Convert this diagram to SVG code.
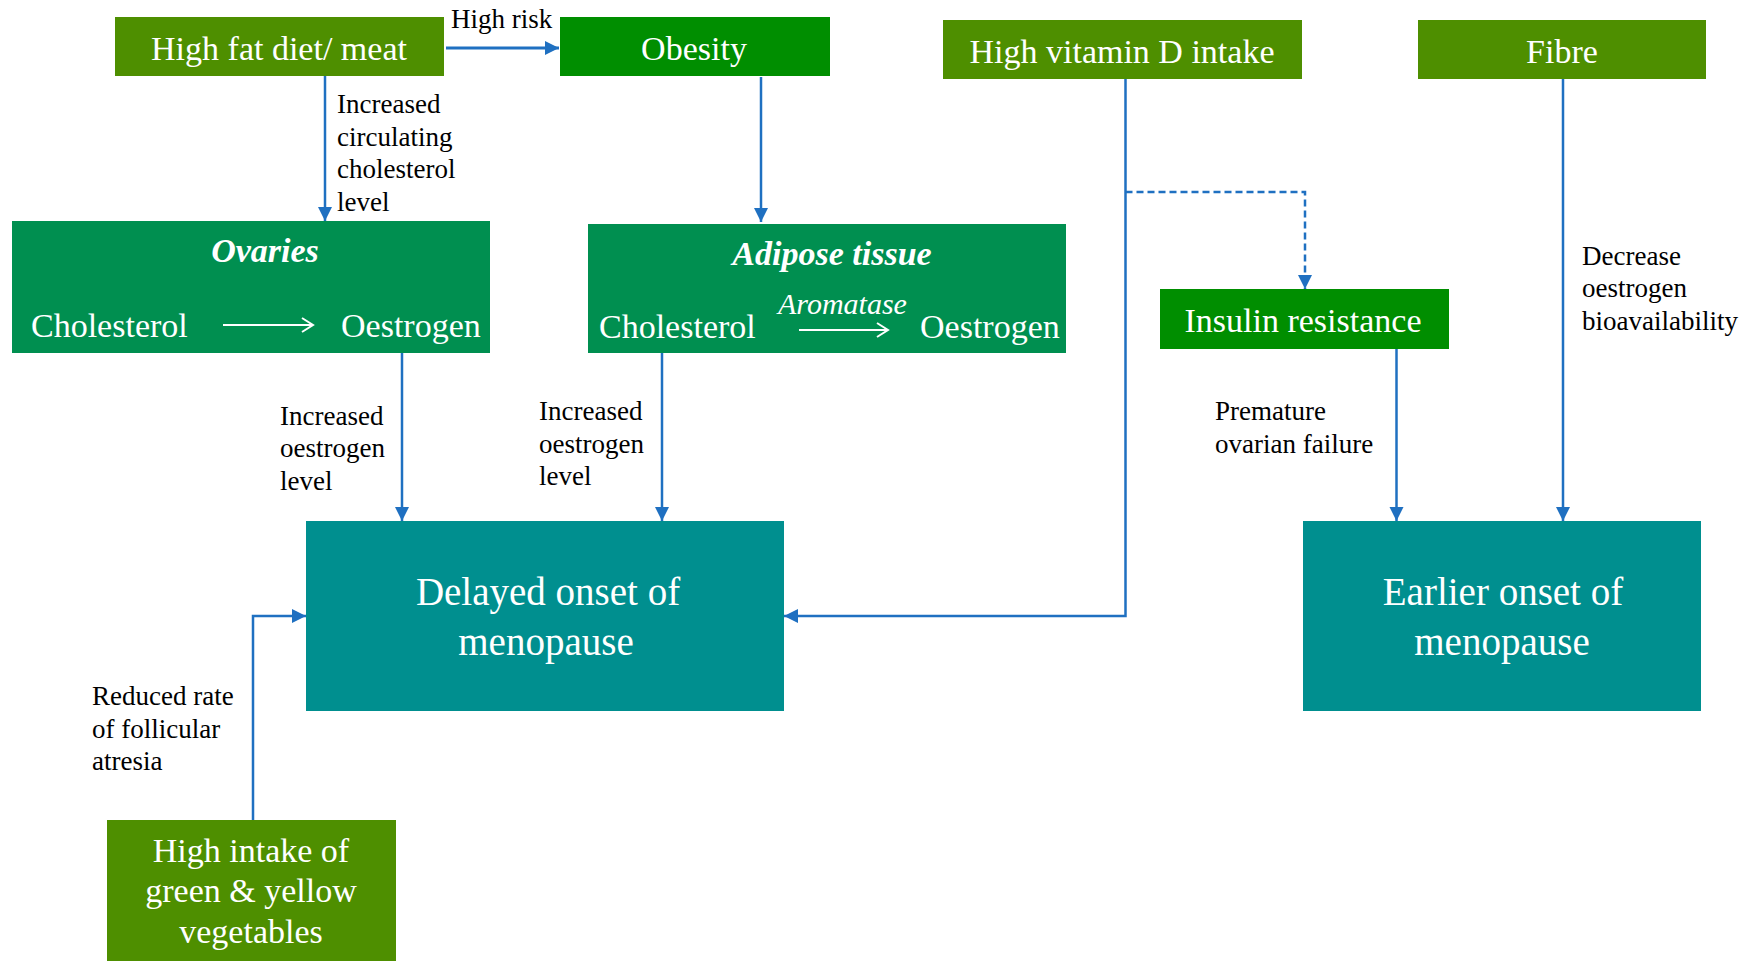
<svg xmlns="http://www.w3.org/2000/svg" width="1763" height="961" viewBox="0 0 1763 961">
<defs>
<marker id="ah" markerUnits="userSpaceOnUse" markerWidth="15" markerHeight="15" refX="14" refY="7.5" orient="auto">
<path d="M0,0.5 L14,7.5 L0,14.5 Z" fill="#1F70C1"/>
</marker>
<style>
.olive{fill:#4E8F00}
.green{fill:#008E00}
.sea{fill:#008F50}
.teal{fill:#008F8F}
.bt{font-family:"Liberation Serif","Times New Roman",serif;fill:#ffffff;font-size:34px}
.bb{font-family:"Liberation Serif","Times New Roman",serif;fill:#ffffff;font-size:39px}
.bi{font-family:"Liberation Serif","Times New Roman",serif;fill:#ffffff;font-size:34px;font-weight:bold;font-style:italic}
.ai{font-family:"Liberation Serif","Times New Roman",serif;fill:#ffffff;font-size:30px;font-style:italic}
.lb{font-family:"Liberation Serif","Times New Roman",serif;fill:#000000;font-size:27px}
.cn{fill:none;stroke:#1F70C1;stroke-width:2.5}
.dash{stroke-dasharray:7,4}
.wa{fill:none;stroke:#ffffff;stroke-width:2}
</style>
</defs>
<rect width="1763" height="961" fill="#ffffff"/>

<g id="connectors">
<path class="cn" d="M446,48 H559" marker-end="url(#ah)" style="stroke-width:2.8"/>
<path class="cn" d="M325,76 V221" marker-end="url(#ah)"/>
<path class="cn" d="M761,77 V222" marker-end="url(#ah)"/>
<path class="cn" d="M402,353 V521" marker-end="url(#ah)"/>
<path class="cn" d="M662,353 V521" marker-end="url(#ah)"/>
<path class="cn" d="M253,820 V616 H306" marker-end="url(#ah)"/>
<path class="cn" d="M1125.5,79 V616 H784" marker-end="url(#ah)"/>
<path class="cn dash" d="M1125.5,192 H1305 V289" marker-end="url(#ah)"/>
<path class="cn" d="M1396.5,349 V521" marker-end="url(#ah)"/>
<path class="cn" d="M1563,79 V521" marker-end="url(#ah)"/>
<text class="lb" x="451" y="28">High risk</text>
<text class="lb" x="337" y="113">Increased</text>
<text class="lb" x="337" y="146">circulating</text>
<text class="lb" x="337" y="178">cholesterol</text>
<text class="lb" x="337" y="211">level</text>
<text class="lb" x="280" y="425">Increased</text>
<text class="lb" x="280" y="457">oestrogen</text>
<text class="lb" x="280" y="490">level</text>
<text class="lb" x="539" y="420">Increased</text>
<text class="lb" x="539" y="453">oestrogen</text>
<text class="lb" x="539" y="485">level</text>
<text class="lb" x="92" y="705">Reduced rate</text>
<text class="lb" x="92" y="738">of follicular</text>
<text class="lb" x="92" y="770">atresia</text>
<text class="lb" x="1215" y="420">Premature</text>
<text class="lb" x="1215" y="453">ovarian failure</text>
<text class="lb" x="1582" y="265">Decrease</text>
<text class="lb" x="1582" y="297">oestrogen</text>
<text class="lb" x="1582" y="330">bioavailability</text>
</g>

<g id="high-fat">
<rect class="olive" x="115" y="17" width="329" height="59"/>
<text class="bt" x="279" y="60" text-anchor="middle">High fat diet/ meat</text>
</g>

<g id="obesity">
<rect class="green" x="560" y="17" width="270" height="59"/>
<text class="bt" x="694" y="60" text-anchor="middle">Obesity</text>
</g>

<g id="vitamin-d">
<rect class="olive" x="943" y="20" width="359" height="59"/>
<text class="bt" x="1122" y="63" text-anchor="middle">High vitamin D intake</text>
</g>

<g id="fibre">
<rect class="olive" x="1418" y="20" width="288" height="59"/>
<text class="bt" x="1562" y="63" text-anchor="middle">Fibre</text>
</g>

<g id="ovaries">
<rect class="sea" x="12" y="221" width="478" height="132"/>
<text class="bi" x="265" y="262" text-anchor="middle">Ovaries</text>
<text class="bt" x="31" y="337">Cholesterol</text>
<path class="wa" d="M223,325 H313 M302,318 L313,325 L302,332"/>
<text class="bt" x="341" y="337">Oestrogen</text>
</g>

<g id="adipose">
<rect class="sea" x="588" y="224" width="478" height="129"/>
<text class="bi" x="832" y="265" text-anchor="middle">Adipose tissue</text>
<text class="bt" x="599" y="338">Cholesterol</text>
<text class="ai" x="778" y="314">Aromatase</text>
<path class="wa" d="M799,330 H888 M877,323 L888,330 L877,337"/>
<text class="bt" x="920" y="338">Oestrogen</text>
</g>

<g id="insulin">
<rect class="green" x="1160" y="289" width="289" height="60"/>
<text class="bt" x="1303" y="332" text-anchor="middle">Insulin resistance</text>
</g>

<g id="delayed">
<rect class="teal" x="306" y="521" width="478" height="190"/>
<text class="bb" x="548" y="605" text-anchor="middle">Delayed onset of</text>
<text class="bb" x="546" y="655" text-anchor="middle">menopause</text>
</g>

<g id="earlier">
<rect class="teal" x="1303" y="521" width="398" height="190"/>
<text class="bb" x="1503" y="605" text-anchor="middle">Earlier onset of</text>
<text class="bb" x="1502" y="655" text-anchor="middle">menopause</text>
</g>

<g id="vegetables">
<rect class="olive" x="107" y="820" width="289" height="141"/>
<text class="bt" x="251" y="862" text-anchor="middle">High intake of</text>
<text class="bt" x="251" y="902" text-anchor="middle">green &amp; yellow</text>
<text class="bt" x="251" y="943" text-anchor="middle">vegetables</text>
</g>
</svg>
